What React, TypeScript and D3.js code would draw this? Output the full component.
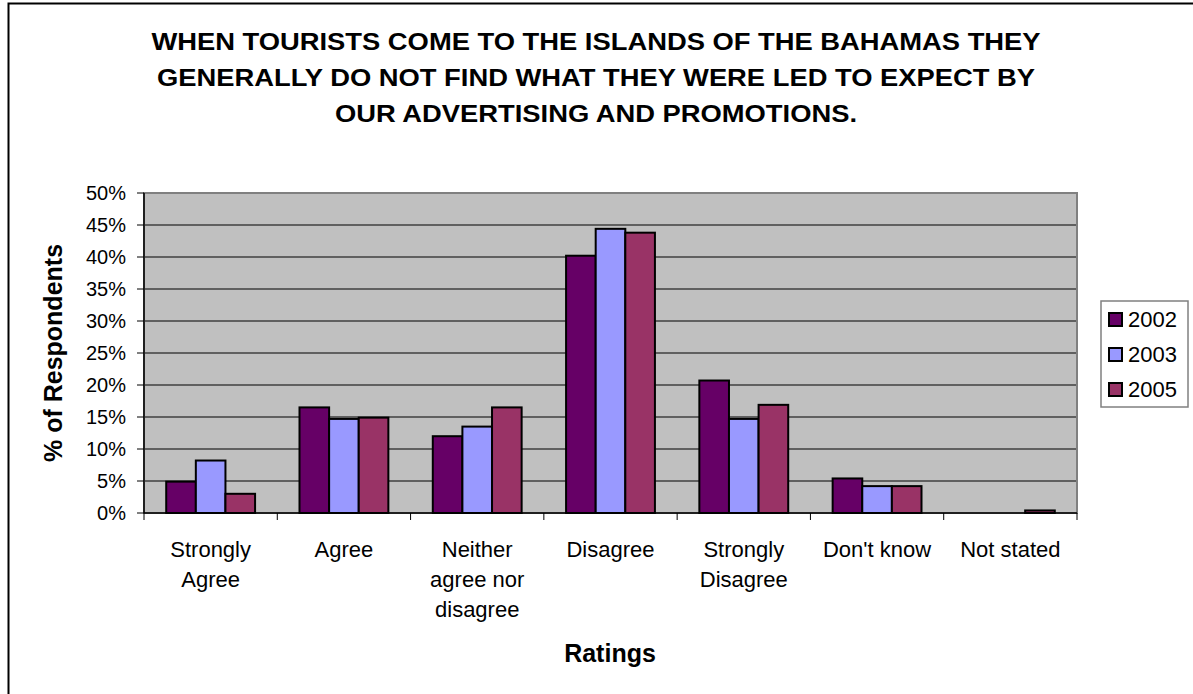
import React from "react";
import * as d3 from "d3";

const categories: string[][] = [
  ["Strongly", "Agree"],
  ["Agree"],
  ["Neither", "agree nor", "disagree"],
  ["Disagree"],
  ["Strongly", "Disagree"],
  ["Don't know"],
  ["Not stated"],
];
const seriesNames = ["2002", "2003", "2005"];
const values2002 = [4.9, 16.5, 12.0, 40.2, 20.7, 5.4, 0];
const values2003 = [8.2, 14.7, 13.5, 44.4, 14.7, 4.2, 0];
const values2005 = [3.0, 14.9, 16.5, 43.8, 16.9, 4.2, 0.4];
const colors = ["#660066", "#9999FF", "#993366"];
const yTicks = [0, 5, 10, 15, 20, 25, 30, 35, 40, 45, 50];
const titleLines = [
  "WHEN TOURISTS COME TO THE ISLANDS OF THE BAHAMAS THEY",
  "GENERALLY DO NOT FIND WHAT THEY WERE LED TO EXPECT BY",
  "OUR ADVERTISING AND PROMOTIONS.",
];

const W = 1193;
const H = 694;
const plot = { left: 144, right: 1077, top: 193, bottom: 513 };
const FONT = "Arial, 'Liberation Sans', Helvetica, sans-serif";

export default function App() {
  const series = [values2002, values2003, values2005];
  const idx = categories.map((_, i) => i);
  const x0 = d3
    .scaleBand<number>()
    .domain(idx)
    .range([plot.left, plot.right])
    .paddingInner(0)
    .paddingOuter(0);
  const groupW = x0.bandwidth() * (3 / 4.5);
  const x1 = d3
    .scaleBand<number>()
    .domain([0, 1, 2])
    .range([0, groupW])
    .padding(0);
  const y = d3.scaleLinear().domain([0, 50]).range([plot.bottom, plot.top]);
  const ticksX = idx.concat([categories.length]).map((i) =>
    i < categories.length ? (x0(i) as number) : plot.right
  );

  return (
    <svg
      width={W}
      height={H}
      style={{ position: "absolute", left: 0, top: 0, background: "#fff" }}
      fontFamily={FONT}
    >
      <rect x={8.5} y={3.5} width={1200} height={700} fill="#fff" stroke="#000" strokeWidth={2} />
      {/* title */}
      {titleLines.map((t, i) => (
        <text
          key={i}
          x={596}
          y={50 + i * 36}
          textAnchor="middle"
          fontWeight="bold"
          fontSize={24}
          fill="#000"
          transform={`translate(596,0) scale(1.14,1) translate(-596,0)`}
        >
          {t}
        </text>
      ))}
      {/* plot background */}
      <rect
        x={plot.left}
        y={plot.top}
        width={plot.right - plot.left}
        height={plot.bottom - plot.top}
        fill="#C0C0C0"
      />
      {/* gridlines */}
      {yTicks.slice(1, -1).map((t) => (
        <line key={t} x1={plot.left} x2={plot.right} y1={y(t)} y2={y(t)} stroke="#000" strokeWidth={1} />
      ))}
      <rect
        x={plot.left}
        y={plot.top}
        width={plot.right - plot.left}
        height={plot.bottom - plot.top}
        fill="none"
        stroke="#808080"
        strokeWidth={2}
      />
      {/* bars */}
      {series.map((vals, s) =>
        vals.map((v, i) =>
          v > 0 ? (
            <rect
              key={`${s}-${i}`}
              x={(x0(i) as number) + (x0.bandwidth() - groupW) / 2 + (x1(s) as number)}
              y={y(v)}
              width={x1.bandwidth()}
              height={y(0) - y(v)}
              fill={colors[s]}
              stroke="#000"
              strokeWidth={2}
            />
          ) : null
        )
      )}
      {/* axes */}
      <line x1={plot.left} x2={plot.left} y1={plot.top} y2={plot.bottom} stroke="#000" strokeWidth={1.5} />
      <line x1={plot.left} x2={plot.right} y1={plot.bottom} y2={plot.bottom} stroke="#000" strokeWidth={1.5} />
      {yTicks.map((t) => (
        <g key={t}>
          <line x1={plot.left - 7} x2={plot.left} y1={y(t)} y2={y(t)} stroke="#000" strokeWidth={1} />
          <text x={126} y={y(t)} dy="0.35em" textAnchor="end" fontSize={20} fill="#000">
            {t}%
          </text>
        </g>
      ))}
      {ticksX.map((tx, i) => (
        <line key={i} x1={tx} x2={tx} y1={plot.bottom} y2={plot.bottom + 7} stroke="#000" strokeWidth={1} />
      ))}
      {categories.map((lines, i) => (
        <text
          key={i}
          x={(x0(i) as number) + x0.bandwidth() / 2}
          y={557}
          textAnchor="middle"
          fontSize={22}
          fill="#000"
        >
          {lines.map((l, j) => (
            <tspan key={j} x={(x0(i) as number) + x0.bandwidth() / 2} dy={j === 0 ? 0 : 30}>
              {l}
            </tspan>
          ))}
        </text>
      ))}
      {/* axis titles */}
      <text x={610} y={662} textAnchor="middle" fontWeight="bold" fontSize={25} fill="#000">
        Ratings
      </text>
      <text
        transform={`translate(62,${(plot.top + plot.bottom) / 2}) rotate(-90)`}
        textAnchor="middle"
        fontWeight="bold"
        fontSize={25}
        fill="#000"
      >
        % of Respondents
      </text>
      {/* legend */}
      <rect x={1101} y={301} width={87} height={106} fill="#fff" stroke="#808080" strokeWidth={1.5} />
      {seriesNames.map((n, i) => (
        <g key={n}>
          <rect x={1109} y={313 + i * 35} width={13} height={13} fill={colors[i]} stroke="#000" strokeWidth={2} />
          <text x={1128} y={319.5 + i * 35} dy="0.35em" fontSize={22} fill="#000">
            {n}
          </text>
        </g>
      ))}
    </svg>
  );
}
